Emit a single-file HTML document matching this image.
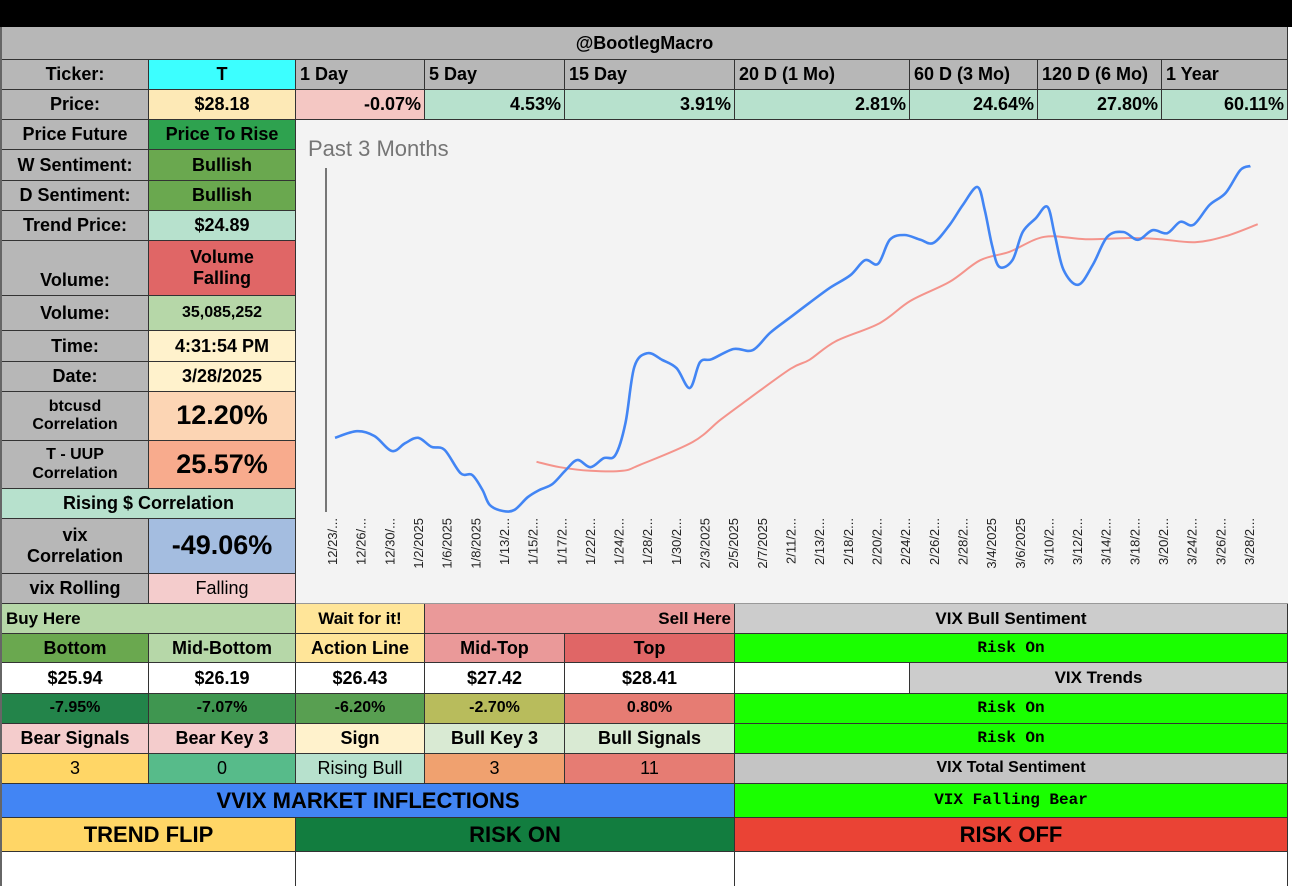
<!DOCTYPE html>
<html><head><meta charset="utf-8">
<style>
body{margin:0;width:1292px;height:886px;background:#fff;position:relative;overflow:hidden;font-family:"Liberation Sans",Arial,sans-serif;}
.c{position:absolute;box-sizing:border-box;border-right:1px solid #333;border-bottom:1px solid #333;display:flex;align-items:center;justify-content:center;font-weight:bold;font-size:18px;color:#000;text-align:center;line-height:1.15;white-space:nowrap;overflow:hidden}
.l{justify-content:flex-start;padding-left:4px}
.r{justify-content:flex-end;padding-right:3px}
.m{font-family:"Liberation Mono",monospace;font-size:16px}
.n{font-weight:normal}
</style></head><body>
<div style="position:absolute;left:0;top:0;width:1292px;height:27px;background:#000"></div>
<div style="position:absolute;left:0;top:27px;width:2px;height:859px;background:#666"></div>
<div class="c" style="left:2px;top:27px;width:1286px;height:33px;background:#b7b7b7">@BootlegMacro</div>

<div class="c" style="left:2px;top:60px;width:147px;height:30px;background:#b7b7b7">Ticker:</div>
<div class="c" style="left:149px;top:60px;width:147px;height:30px;background:#3cffff">T</div>
<div class="c l" style="left:296px;top:60px;width:129px;height:30px;background:#b7b7b7">1 Day</div>
<div class="c l" style="left:425px;top:60px;width:140px;height:30px;background:#b7b7b7">5 Day</div>
<div class="c l" style="left:565px;top:60px;width:170px;height:30px;background:#b7b7b7">15 Day</div>
<div class="c l" style="left:735px;top:60px;width:175px;height:30px;background:#b7b7b7">20 D (1 Mo)</div>
<div class="c l" style="left:910px;top:60px;width:128px;height:30px;background:#b7b7b7">60 D (3 Mo)</div>
<div class="c l" style="left:1038px;top:60px;width:124px;height:30px;background:#b7b7b7">120 D (6 Mo)</div>
<div class="c l" style="left:1162px;top:60px;width:126px;height:30px;background:#b7b7b7">1 Year</div>

<div class="c" style="left:2px;top:90px;width:147px;height:30px;background:#b7b7b7">Price:</div>
<div class="c" style="left:149px;top:90px;width:147px;height:30px;background:#fde9b6">$28.18</div>
<div class="c r" style="left:296px;top:90px;width:129px;height:30px;background:#f4c7c3">-0.07%</div>
<div class="c r" style="left:425px;top:90px;width:140px;height:30px;background:#b7e1cd">4.53%</div>
<div class="c r" style="left:565px;top:90px;width:170px;height:30px;background:#b7e1cd">3.91%</div>
<div class="c r" style="left:735px;top:90px;width:175px;height:30px;background:#b7e1cd">2.81%</div>
<div class="c r" style="left:910px;top:90px;width:128px;height:30px;background:#b7e1cd">24.64%</div>
<div class="c r" style="left:1038px;top:90px;width:124px;height:30px;background:#b7e1cd">27.80%</div>
<div class="c r" style="left:1162px;top:90px;width:126px;height:30px;background:#b7e1cd">60.11%</div>

<div class="c" style="left:2px;top:120px;width:147px;height:30px;background:#b7b7b7">Price Future</div>
<div class="c" style="left:149px;top:120px;width:147px;height:30px;background:#2ea24f">Price To Rise</div>
<div class="c" style="left:2px;top:150px;width:147px;height:31px;background:#b7b7b7">W Sentiment:</div>
<div class="c" style="left:149px;top:150px;width:147px;height:31px;background:#6aa84f">Bullish</div>
<div class="c" style="left:2px;top:181px;width:147px;height:30px;background:#b7b7b7">D Sentiment:</div>
<div class="c" style="left:149px;top:181px;width:147px;height:30px;background:#6aa84f">Bullish</div>
<div class="c" style="left:2px;top:211px;width:147px;height:30px;background:#b7b7b7">Trend Price:</div>
<div class="c" style="left:149px;top:211px;width:147px;height:30px;background:#b7e1cd">$24.89</div>
<div class="c" style="left:2px;top:241px;width:147px;height:55px;background:#b7b7b7;align-items:flex-end;padding-bottom:4px">Volume:</div>
<div class="c" style="left:149px;top:241px;width:147px;height:55px;background:#e06666">Volume<br>Falling</div>
<div class="c" style="left:2px;top:296px;width:147px;height:35px;background:#b7b7b7">Volume:</div>
<div class="c" style="left:149px;top:296px;width:147px;height:35px;background:#b6d7a8;font-size:16px">35,085,252</div>
<div class="c" style="left:2px;top:331px;width:147px;height:31px;background:#b7b7b7">Time:</div>
<div class="c" style="left:149px;top:331px;width:147px;height:31px;background:#fff2cc">4:31:54 PM</div>
<div class="c" style="left:2px;top:362px;width:147px;height:30px;background:#b7b7b7">Date:</div>
<div class="c" style="left:149px;top:362px;width:147px;height:30px;background:#fff2cc">3/28/2025</div>
<div class="c" style="left:2px;top:392px;width:147px;height:49px;background:#b7b7b7;font-size:16px">btcusd<br>Correlation</div>
<div class="c" style="left:149px;top:392px;width:147px;height:49px;background:#fcd5b4;font-size:27px">12.20%</div>
<div class="c" style="left:2px;top:441px;width:147px;height:48px;background:#b7b7b7;font-size:16px">T - UUP<br>Correlation</div>
<div class="c" style="left:149px;top:441px;width:147px;height:48px;background:#f8ab8d;font-size:27px">25.57%</div>
<div class="c" style="left:2px;top:489px;width:294px;height:30px;background:#b7e1cd">Rising $ Correlation</div>
<div class="c" style="left:2px;top:519px;width:147px;height:55px;background:#b7b7b7">vix<br>Correlation</div>
<div class="c" style="left:149px;top:519px;width:147px;height:55px;background:#a4bde0;font-size:27px">-49.06%</div>
<div class="c" style="left:2px;top:574px;width:147px;height:30px;background:#b7b7b7">vix Rolling</div>
<div class="c" style="left:149px;top:574px;width:147px;height:30px;background:#f4cccc;font-weight:normal">Falling</div>

<div style="position:absolute;left:296px;top:120px;width:992px;height:484px;background:#f3f3f3;border-bottom:1px solid #999;box-sizing:border-box">
<div style="position:absolute;left:12px;top:16px;font-size:22px;color:#757575">Past 3 Months</div>
</div>
<svg id="chart" width="1292" height="886" style="position:absolute;left:0;top:0;pointer-events:none"></svg>

<div class="c l" style="left:2px;top:604px;width:294px;height:30px;background:#b6d7a8;font-size:17px">Buy Here</div>
<div class="c" style="left:296px;top:604px;width:129px;height:30px;background:#ffe599;font-size:17px">Wait for it!</div>
<div class="c r" style="left:425px;top:604px;width:310px;height:30px;background:#ea9999;font-size:17px">Sell Here</div>
<div class="c" style="left:735px;top:604px;width:553px;height:30px;background:#cccccc;font-size:17px">VIX Bull Sentiment</div>

<div class="c" style="left:2px;top:634px;width:147px;height:29px;background:#6aa84f">Bottom</div>
<div class="c" style="left:149px;top:634px;width:147px;height:29px;background:#b6d7a8">Mid-Bottom</div>
<div class="c" style="left:296px;top:634px;width:129px;height:29px;background:#ffe599">Action Line</div>
<div class="c" style="left:425px;top:634px;width:140px;height:29px;background:#ea9999">Mid-Top</div>
<div class="c" style="left:565px;top:634px;width:170px;height:29px;background:#e06666">Top</div>
<div class="c m" style="left:735px;top:634px;width:553px;height:29px;background:#1aff00">Risk On</div>

<div class="c" style="left:2px;top:663px;width:147px;height:31px;background:#fff">$25.94</div>
<div class="c" style="left:149px;top:663px;width:147px;height:31px;background:#fff">$26.19</div>
<div class="c" style="left:296px;top:663px;width:129px;height:31px;background:#fff">$26.43</div>
<div class="c" style="left:425px;top:663px;width:140px;height:31px;background:#fff">$27.42</div>
<div class="c" style="left:565px;top:663px;width:170px;height:31px;background:#fff">$28.41</div>
<div class="c" style="left:735px;top:663px;width:175px;height:31px;background:#fff"></div>
<div class="c" style="left:910px;top:663px;width:378px;height:31px;background:#cccccc;font-size:17px">VIX Trends</div>

<div class="c" style="left:2px;top:694px;width:147px;height:30px;background:#23844a;font-size:16px">-7.95%</div>
<div class="c" style="left:149px;top:694px;width:147px;height:30px;background:#3f9650;font-size:16px">-7.07%</div>
<div class="c" style="left:296px;top:694px;width:129px;height:30px;background:#589f51;font-size:16px">-6.20%</div>
<div class="c" style="left:425px;top:694px;width:140px;height:30px;background:#b8bc5c;font-size:16px">-2.70%</div>
<div class="c" style="left:565px;top:694px;width:170px;height:30px;background:#e67c73;font-size:16px">0.80%</div>
<div class="c m" style="left:735px;top:694px;width:553px;height:30px;background:#1aff00">Risk On</div>

<div class="c" style="left:2px;top:724px;width:147px;height:30px;background:#f4cccc">Bear Signals</div>
<div class="c" style="left:149px;top:724px;width:147px;height:30px;background:#f4cccc">Bear Key 3</div>
<div class="c" style="left:296px;top:724px;width:129px;height:30px;background:#fff2cc">Sign</div>
<div class="c" style="left:425px;top:724px;width:140px;height:30px;background:#d9ead3">Bull Key 3</div>
<div class="c" style="left:565px;top:724px;width:170px;height:30px;background:#d9ead3">Bull Signals</div>
<div class="c m" style="left:735px;top:724px;width:553px;height:30px;background:#1aff00">Risk On</div>

<div class="c n" style="left:2px;top:754px;width:147px;height:30px;background:#ffd666">3</div>
<div class="c n" style="left:149px;top:754px;width:147px;height:30px;background:#57bb8a">0</div>
<div class="c n" style="left:296px;top:754px;width:129px;height:30px;background:#b7e1cd">Rising Bull</div>
<div class="c n" style="left:425px;top:754px;width:140px;height:30px;background:#f0a16f">3</div>
<div class="c n" style="left:565px;top:754px;width:170px;height:30px;background:#e67c73">11</div>
<div class="c" style="left:735px;top:754px;width:553px;height:30px;background:#c4c4c4;font-size:16px">VIX Total Sentiment</div>

<div class="c" style="left:2px;top:784px;width:733px;height:34px;background:#4285f4;font-size:22px">VVIX MARKET INFLECTIONS</div>
<div class="c m" style="left:735px;top:784px;width:553px;height:34px;background:#1aff00">VIX Falling Bear</div>

<div class="c" style="left:2px;top:818px;width:294px;height:34px;background:#ffd666;font-size:22px">TREND FLIP</div>
<div class="c" style="left:296px;top:818px;width:439px;height:34px;background:#127d3f;font-size:22px">RISK ON</div>
<div class="c" style="left:735px;top:818px;width:553px;height:34px;background:#ea4335;font-size:22px">RISK OFF</div>

<div class="c" style="left:2px;top:852px;width:294px;height:34px;background:#fff;border-bottom:none"></div>
<div class="c" style="left:296px;top:852px;width:439px;height:34px;background:#fff;border-bottom:none"></div>
<div class="c" style="left:735px;top:852px;width:553px;height:34px;background:#fff;border-bottom:none"></div>

<script>
const tickLabels=["12/23/...","12/26/...","12/30/...","1/2/2025","1/6/2025","1/8/2025","1/13/2...","1/15/2...","1/17/2...","1/22/2...","1/24/2...","1/28/2...","1/30/2...","2/3/2025","2/5/2025","2/7/2025","2/11/2...","2/13/2...","2/18/2...","2/20/2...","2/24/2...","2/26/2...","2/28/2...","3/4/2025","3/6/2025","3/10/2...","3/12/2...","3/14/2...","3/18/2...","3/20/2...","3/24/2...","3/26/2...","3/28/2..."];
const priceDays=[0,1.5,2.7,3.9,4.8,5.7,6.6,7.5,8.6,9.4,10.1,10.6,11.5,12.3,13.2,14.0,14.9,15.8,16.6,17.5,18.4,19.2,19.9,20.5,21.4,22.4,23.4,24.3,25.0,25.8,27.3,28.6,29.8,31.2,32.5,33.9,35.3,36.3,37.2,38.0,39.0,40.1,41.0,42.1,43.0,44.0,44.5,45.0,45.5,46.4,47.1,48.0,48.8,49.3,49.9,50.9,51.9,52.9,54.0,55.0,56.0,57.0,57.9,58.8,59.9,61.0,62.0,62.7];
const priceValues=[23.37,23.48,23.40,23.15,23.28,23.37,23.22,23.17,22.78,22.75,22.50,22.25,22.15,22.17,22.38,22.50,22.60,22.83,23.00,22.88,23.03,23.08,23.62,24.55,24.78,24.67,24.53,24.20,24.63,24.68,24.85,24.83,25.12,25.38,25.62,25.87,26.08,26.33,26.27,26.67,26.75,26.67,26.62,26.92,27.25,27.55,27.17,26.58,26.22,26.33,26.80,27.03,27.22,26.75,26.17,25.92,26.25,26.72,26.80,26.67,26.83,26.78,26.97,26.92,27.25,27.45,27.83,27.90];
const maDays=[13.8,15.4,17.5,19.7,20.9,24.5,26.4,28.4,31.2,32.5,34.3,37.3,39.4,42.1,44.2,46.2,48.6,51.4,54.5,56.5,58.9,61.0,63.2];
const maValues=[22.97,22.88,22.82,22.82,22.92,23.30,23.67,24.03,24.52,24.67,24.98,25.28,25.65,25.97,26.33,26.47,26.72,26.68,26.70,26.68,26.63,26.73,26.93];

const svg=document.getElementById('chart');
const NS='http://www.w3.org/2000/svg';
const xScale=d=>335+d*14.6;
const yScale=p=>520-(p-22)*60;
function smoothPath(xs,ys){
  const pts=xs.map((d,i)=>[xScale(d),yScale(ys[i])]);
  let s='M'+pts[0][0].toFixed(1)+','+pts[0][1].toFixed(1);
  for(let i=0;i<pts.length-1;i++){
    const p0=pts[i-1]||pts[i],p1=pts[i],p2=pts[i+1],p3=pts[i+2]||p2;
    const c1=[p1[0]+(p2[0]-p0[0])/6,p1[1]+(p2[1]-p0[1])/6];
    const c2=[p2[0]-(p3[0]-p1[0])/6,p2[1]-(p3[1]-p1[1])/6];
    s+='C'+c1.map(v=>v.toFixed(1)).join(',')+' '+c2.map(v=>v.toFixed(1)).join(',')+' '+p2[0].toFixed(1)+','+p2[1].toFixed(1);
  }
  return s;
}
const axis=document.createElementNS(NS,'line');


axis.setAttribute('x1',326);axis.setAttribute('x2',326);axis.setAttribute('y1',168);axis.setAttribute('y2',512);
axis.setAttribute('stroke','#333');axis.setAttribute('stroke-width','1.3');
svg.appendChild(axis);

const ma=document.createElementNS(NS,'path');


ma.setAttribute('d',smoothPath(maDays,maValues));
ma.setAttribute('fill','none');ma.setAttribute('stroke','#f4948c');ma.setAttribute('stroke-width','2');
svg.appendChild(ma);

const pl=document.createElementNS(NS,'path');


pl.setAttribute('d',smoothPath(priceDays,priceValues));
pl.setAttribute('fill','none');pl.setAttribute('stroke','#4285f4');pl.setAttribute('stroke-width','2.6');
svg.appendChild(pl);

const step=(1250-333)/(tickLabels.length-1);
tickLabels.forEach((t,i)=>{
  const x=333+i*step+4;
  const tx=document.createElementNS(NS,'text');
  
  
  tx.setAttribute('x',0);tx.setAttribute('y',0);
  tx.setAttribute('transform','translate('+x.toFixed(1)+',518) rotate(-90)');
  tx.setAttribute('text-anchor','end');
  tx.setAttribute('font-size','13');
  tx.setAttribute('font-family','Liberation Sans, sans-serif');
  tx.setAttribute('fill','#222');
  tx.textContent=t;
  svg.appendChild(tx);
});
</script>
</body></html>
